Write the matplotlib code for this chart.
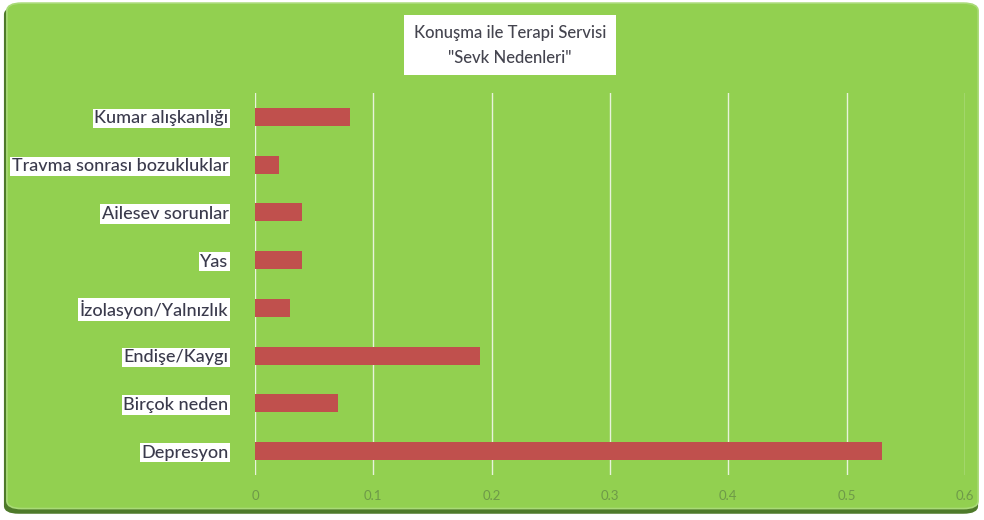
import matplotlib.pyplot as plt
from matplotlib.patches import FancyBboxPatch

# data
reasons = ['Depresyon', 'Birçok neden', 'Endişe/Kaygı', 'İzolasyon/Yalnızlık',
           'Yas', 'Ailesev sorunlar', 'Travma sonrası bozukluklar', 'Kumar alışkanlığı']
shares = [0.53, 0.07, 0.19, 0.03, 0.04, 0.04, 0.02, 0.08]
xticks = [0, 0.1, 0.2, 0.3, 0.4, 0.5, 0.6]
xticklabels = ['0', '0.1', '0.2', '0.3', '0.4', '0.5', '0.6']

green = '#92D050'
bar_red = '#C0504D'
text_dark = '#3A3A4C'

plt.rcParams['font.family'] = ['Lato', 'DejaVu Sans']

fig = plt.figure(figsize=(9.84, 5.2), dpi=100)
fig.patch.set_facecolor('white')

# rounded green panel with a dark shadow
shadow = FancyBboxPatch((0.004, 0.012), 0.99, 0.975, boxstyle='round,pad=0,rounding_size=0.015',
                        transform=fig.transFigure, facecolor='#4E7A2A', edgecolor='none', zorder=-2)
panel = FancyBboxPatch((0.007, 0.022), 0.987, 0.972, boxstyle='round,pad=0,rounding_size=0.015',
                       transform=fig.transFigure, facecolor=green, edgecolor='#A9DA77',
                       linewidth=1.2, zorder=-1)
fig.add_artist(shadow)
fig.add_artist(panel)

ax = fig.add_axes([0.2591, 0.0865, 0.7215, 0.7346])
ax.set_facecolor('none')

ypos = list(range(len(reasons)))
ax.barh(ypos, shares, height=0.38, color=bar_red, zorder=3)

ax.set_xlim(0, 0.6)
ax.set_ylim(-0.5, len(reasons) - 0.5)
ax.set_xticks(xticks)
ax.set_xticklabels(xticklabels, color='#6E9A48', fontsize=9.5)
ax.set_yticks(ypos)
ax.set_yticklabels(reasons, color=text_dark, fontsize=13, fontweight='medium')
for lab in ax.get_yticklabels():
    lab.set_bbox(dict(facecolor='white', edgecolor='none', pad=1.2))

ax.tick_params(axis='x', length=0, pad=11)
ax.tick_params(axis='y', length=0, pad=19)
ax.grid(axis='x', color='#E8F3DA', linewidth=1.0, zorder=1)
ax.grid(axis='y', visible=False)
for s in ax.spines.values():
    s.set_visible(False)

fig.text(0.518, 0.913, 'Konuşma ile Terapi Servisi\n"Sevk Nedenleri"', ha='center', va='center',
         fontsize=12, color='#44444F', fontweight='medium', linespacing=1.7,
         bbox=dict(facecolor='white', edgecolor='none', pad=7))

fig.savefig('out.png', dpi=100)
